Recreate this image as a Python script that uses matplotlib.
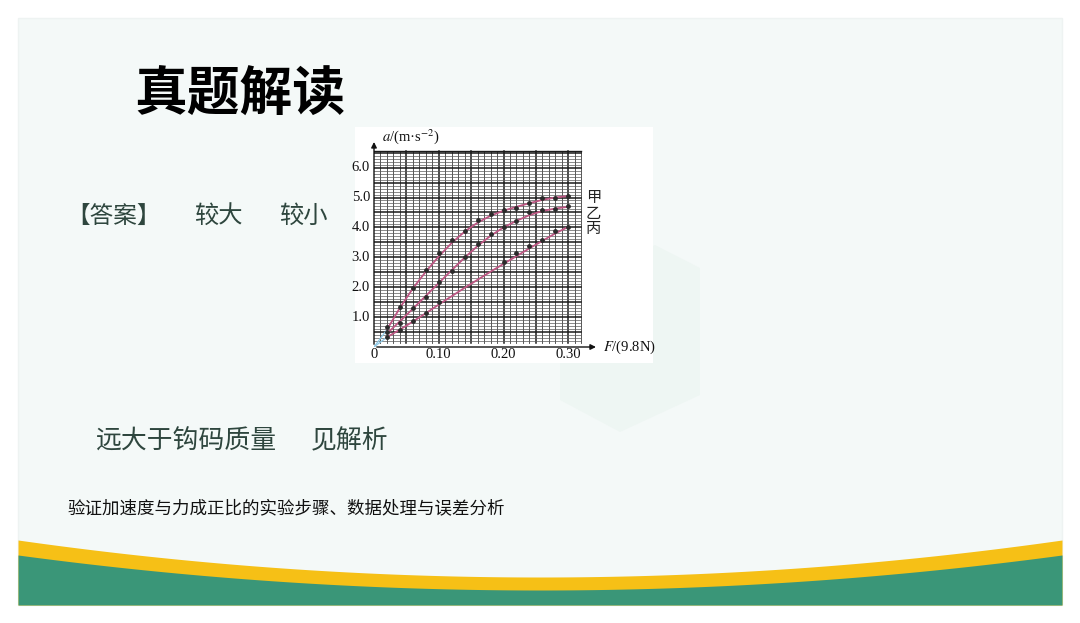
import matplotlib
matplotlib.use("Agg")
import matplotlib.pyplot as plt
from matplotlib.patches import Rectangle, Polygon
import numpy as np

plt.rcParams['font.family'] = ['Noto Sans CJK SC', 'DejaVu Sans']
plt.rcParams['mathtext.fontset'] = 'stix'

# ---------------- data ----------------
F_points = [0.02, 0.04, 0.06, 0.08, 0.10, 0.12, 0.14, 0.16, 0.18, 0.20, 0.22, 0.24, 0.26, 0.28, 0.30]
a_jia = [0.66, 1.34, 1.98, 2.59, 3.13, 3.58, 3.88, 4.25, 4.44, 4.57, 4.66, 4.83, 4.97, 5.00, 5.06]
a_yi = [0.51, 0.79, 1.31, 1.68, 2.18, 2.55, 3.02, 3.43, 3.79, 4.02, 4.23, 4.50, 4.57, 4.61, 4.71]
F_bing = [0.02, 0.04, 0.06, 0.08, 0.10, 0.20, 0.22, 0.24, 0.26, 0.28, 0.30]
a_bing = [0.33, 0.56, 0.88, 1.14, 1.49, 2.85, 3.13, 3.39, 3.57, 3.88, 4.02]

# fitted curves as drawn in the picture
F_curve = [0.02, 0.04, 0.06, 0.08, 0.10, 0.12, 0.14, 0.16, 0.18, 0.20, 0.22, 0.24, 0.26, 0.28, 0.30]
curve_jia = [0.58, 1.31, 1.96, 2.52, 3.03, 3.48, 3.86, 4.16, 4.39, 4.56, 4.69, 4.81, 4.92, 5.00, 5.05]
curve_yi = [0.45, 0.86, 1.28, 1.71, 2.14, 2.57, 2.99, 3.38, 3.72, 4.00, 4.22, 4.41, 4.55, 4.63, 4.69]
curve_bing = [0.33, 0.58, 0.85, 1.13, 1.42, 1.70, 1.98, 2.25, 2.52, 2.78, 3.04, 3.30, 3.55, 3.80, 4.02]

series_labels = ["甲", "乙", "丙"]
x_ticks = [0.10, 0.20, 0.30]
x_tick_labels = ["0.10", "0.20", "0.30"]
y_ticks = [1.0, 2.0, 3.0, 4.0, 5.0, 6.0]
y_tick_labels = ["1.0", "2.0", "3.0", "4.0", "5.0", "6.0"]

title = "真题解读"
answer_head = "【答案】"
answer1 = "较大"
answer2 = "较小"
answer3 = "远大于钩码质量"
answer4 = "见解析"
footnote = "验证加速度与力成正比的实验步骤、数据处理与误差分析"

# ---------------- figure / slide background ----------------
W, H = 1080, 623
fig = plt.figure(figsize=(W / 100, H / 100), dpi=100)
fig.patch.set_facecolor("white")
bg = fig.add_axes([0, 0, 1, 1])
bg.set_xlim(0, W)
bg.set_ylim(H, 0)
bg.axis("off")

# panel
bg.add_patch(Rectangle((18, 18), 1044, 587, facecolor="#f4f9f8", edgecolor="#eef3f2", lw=1.0, zorder=0))
# faint watermark shape
bg.add_patch(Polygon([(560, 290), (655, 245), (700, 268), (700, 395), (620, 432), (560, 400)],
                     closed=True, facecolor="#eef6f3", edgecolor="none", zorder=0.5))

# bottom bands
xs = np.linspace(18, 1062, 300)
t = ((xs - 540) / 522.0) ** 2
yellow_top = 577 - 37 * t
green_top = 590 - 35 * t
bg.fill_between(xs, yellow_top, 605, color="#f6c016", lw=0, zorder=1)
bg.fill_between(xs, green_top, 605, color="#3a9678", lw=0, zorder=2)

# chart image white background
bg.add_patch(Rectangle((355, 127), 298, 236, facecolor="white", edgecolor="none", zorder=1))

# texts
bg.text(134, 95, title, fontsize=38, fontweight="bold", color="black", va="center", ha="left", zorder=3)
txt_color = "#2e463e"
bg.text(66, 216, answer_head, fontsize=17, color=txt_color, va="center", ha="left", zorder=3)
bg.text(194, 216, answer1, fontsize=17.5, color=txt_color, va="center", ha="left", zorder=3)
bg.text(279, 216, answer2, fontsize=17.5, color=txt_color, va="center", ha="left", zorder=3)
bg.text(96, 441, answer3, fontsize=18.6, color=txt_color, va="center", ha="left", zorder=3)
bg.text(311, 441, answer4, fontsize=18.6, color=txt_color, va="center", ha="left", zorder=3)
bg.text(68, 508, footnote, fontsize=12.6, color="#111111", va="center", ha="left", zorder=3)

# ---------------- chart ----------------
px_per_x = 647.7
px_per_y = 29.9
x0_px, y0_px = 374.0, 347.0
xmax, ymax = 0.36, 7.0
ax = fig.add_axes([x0_px / W, (H - y0_px) / H, xmax * px_per_x / W, ymax * px_per_y / H])
ax.set_xlim(0, xmax)
ax.set_ylim(0, ymax)
ax.axis("off")
ax.patch.set_alpha(0)

gx_max, gy_min, gy_max = 0.32, 0.15, 6.55
# vertical grid
for i in range(1, 33):
    xv = i * 0.01
    major = (i % 5 == 0)
    ax.plot([xv, xv], [gy_min, gy_max], color="#1a1a1a" if major else "#3c3c3c",
            lw=1.1 if major else 0.6, zorder=1)
# horizontal grid
for j in range(2, 66):
    yv = j * 0.1
    major = (j % 5 == 0)
    ax.plot([0, gx_max], [yv, yv], color="#1a1a1a" if major else "#5a5a5a",
            lw=1.1 if major else 0.5, zorder=1)
ax.plot([0, gx_max], [gy_max, gy_max], color="#1a1a1a", lw=1.0, zorder=1)

# axes with arrows
ax.annotate("", xy=(0.347, 0), xytext=(0, 0),
            arrowprops=dict(arrowstyle="-|>", color="#111111", lw=1.0, mutation_scale=8), zorder=3)
ax.annotate("", xy=(0, 6.95), xytext=(0, 0),
            arrowprops=dict(arrowstyle="-|>", color="#111111", lw=1.0, mutation_scale=8), zorder=3)

serif = ["Liberation Serif", "DejaVu Serif"]
for xv, lab in zip(x_ticks, x_tick_labels):
    ax.text(xv, -0.25, lab, fontsize=10.5, family=serif, ha="center", va="center", color="#111111")
ax.text(0, -0.25, "0", fontsize=10.5, family=serif, ha="center", va="center", color="#111111")
for yv, lab in zip(y_ticks, y_tick_labels):
    ax.text(-0.006, yv, lab, fontsize=10.5, family=serif, ha="right", va="center", color="#111111")

ax.text(0.012, 7.05, r"$a$/(m·s$^{-2}$)", fontsize=10.5, family=serif, ha="left", va="center", color="#111111")
ax.text(0.354, 0.0, r"$F$/(9.8N)", fontsize=10.5, family=serif, ha="left", va="center", color="#111111")

# origin extrapolation (light blue)
ax.plot([0, F_curve[0]], [0, curve_jia[0]], color="#8cc8e6", lw=0.9, zorder=2)
ax.plot([0, F_curve[0]], [0, curve_bing[0]], color="#8cc8e6", lw=0.9, zorder=2)

curve_color = "#bd5683"
for cy in (curve_jia, curve_yi, curve_bing):
    ax.plot(F_curve, cy, color=curve_color, lw=1.3, zorder=3, solid_capstyle="round")

ax.scatter(F_points, a_jia, s=6, color="#2a2a2a", zorder=4)
ax.scatter(F_points, a_yi, s=6, color="#2a2a2a", zorder=4)
ax.scatter(F_bing, a_bing, s=6, color="#2a2a2a", zorder=4)

label_y = [5.0, 4.45, 3.95]
for lab, yv in zip(series_labels, label_y):
    ax.text(0.327, yv, lab, fontsize=11, ha="left", va="center", color="#222222")

fig.savefig("out.png", dpi=100, facecolor=fig.get_facecolor())
